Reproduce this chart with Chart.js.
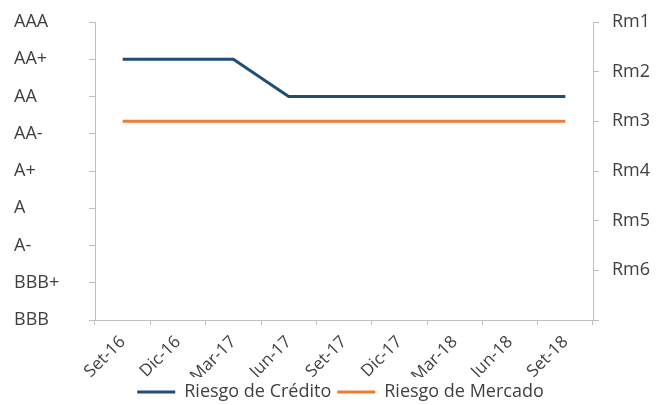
<!DOCTYPE html>
<html>
<head>
<meta charset="utf-8">
<script src="https://cdn.jsdelivr.net/npm/chart.js@4"></script>
<style>
  html, body { margin: 0; padding: 0; background: #fff; }
  #wrap { width: 667px; height: 405px; }
</style>
</head>
<body>
<div id="wrap"><canvas id="chart" width="667" height="405"></canvas></div>
<script>
// trimestres
const quarters = ['Set-16', 'Dic-16', 'Mar-17', 'Jun-17', 'Set-17', 'Dic-17', 'Mar-18', 'Jun-18', 'Set-18'];
// escala de clasificación (eje izq.) y riesgo de mercado (eje der.)
const ratingLabels = ['AAA', 'AA+', 'AA', 'AA-', 'A+', 'A', 'A-', 'BBB+', 'BBB'];
const rmLabels = ['Rm1', 'Rm2', 'Rm3', 'Rm4', 'Rm5', 'Rm6', ''];
// series
const creditRisk = ['AA+', 'AA+', 'AA+', 'AA', 'AA', 'AA', 'AA', 'AA', 'AA'];
const marketRisk = ['Rm3', 'Rm3', 'Rm3', 'Rm3', 'Rm3', 'Rm3', 'Rm3', 'Rm3', 'Rm3'];

const AXIS = '#BFBFBF';
const TEXT = '#404040';
const FONT = "'Open Sans', sans-serif";

new Chart(document.getElementById('chart'), {
  type: 'line',
  data: {
    labels: quarters,
    datasets: [
      {
        label: 'Riesgo de Crédito',
        data: creditRisk.map(r => ratingLabels.indexOf(r)),
        yAxisID: 'y',
        borderColor: '#1F4E79',
        backgroundColor: '#1F4E79',
        borderWidth: 3,
        pointRadius: 0,
        tension: 0
      },
      {
        label: 'Riesgo de Mercado',
        data: marketRisk.map(r => rmLabels.indexOf(r) + 1),
        yAxisID: 'y2',
        borderColor: '#ED7D31',
        backgroundColor: '#ED7D31',
        borderWidth: 3,
        pointRadius: 0,
        tension: 0
      }
    ]
  },
  options: {
    responsive: false,
    animation: false,
    layout: { padding: { left: 14, right: 0, top: 20, bottom: -6 } },
    plugins: {
      legend: {
        position: 'bottom',
        labels: {
          usePointStyle: true,
          pointStyle: 'line',
          pointStyleWidth: 38,
          padding: 6,
          color: TEXT,
          font: { family: FONT, size: 18 }
        }
      },
      tooltip: { enabled: false }
    },
    scales: {
      x: {
        offset: true,
        grid: { offset: true, drawOnChartArea: false, tickLength: 5, color: AXIS },
        border: { color: AXIS, width: 1 },
        ticks: {
          minRotation: 45, maxRotation: 45, padding: 7,
          color: TEXT, font: { family: FONT, size: 17 }
        },
        afterFit: s => { s.height = 57; }
      },
      y: {
        position: 'left',
        min: 0, max: 8, reverse: true,
        grid: { drawOnChartArea: false, tickLength: 6, color: AXIS },
        border: { color: AXIS, width: 1 },
        ticks: {
          stepSize: 1, crossAlign: 'far',
          color: TEXT, font: { family: FONT, size: 18, lineHeight: 1 },
          callback: v => ratingLabels[v]
        },
        afterFit: s => { s.width = 81; }
      },
      y2: {
        position: 'right',
        min: 1, max: 7, reverse: true,
        grid: { drawOnChartArea: false, tickLength: 6, color: AXIS },
        border: { color: AXIS, width: 1 },
        ticks: {
          stepSize: 1, padding: 13,
          color: TEXT, font: { family: FONT, size: 18, lineHeight: 1 },
          callback: v => rmLabels[v - 1]
        },
        afterFit: s => { s.width = 74; }
      }
    }
  }
});
</script>
</body>
</html>
